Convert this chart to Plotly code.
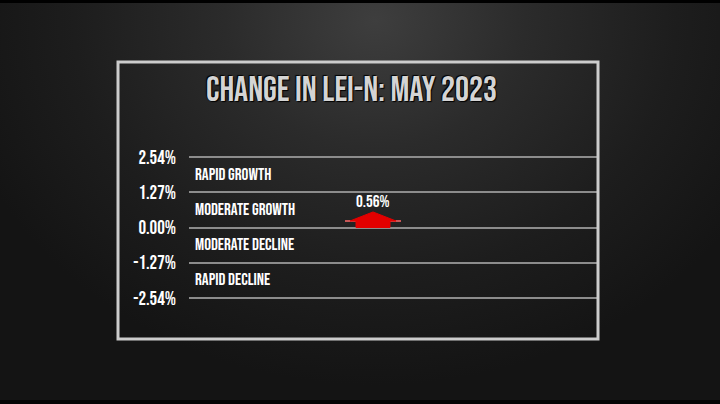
import base64
import plotly.graph_objects as go

# ---- data ----
tick_values = [2.54, 1.27, 0.00, -1.27, -2.54]
tick_labels = ["2.54%", "1.27%", "0.00%", "-1.27%", "-2.54%"]
zone_labels = ["RAPID GROWTH", "MODERATE GROWTH", "MODERATE DECLINE", "RAPID DECLINE"]
zone_centers = [1.905, 0.635, -0.635, -1.905]
change_value = 0.56
change_label = "0.56%"
title_text = "CHANGE IN LEI-N: MAY 2023"

FONT = "Bebas Neue, Oswald, sans-serif"

# plot-area pixel geometry (for paper-coordinate conversions)
L, R, T, B = 189, 597, 155, 300
PW, PH = R - L, B - T


def px(x):
    return (x - L) / PW


def py(y):
    return (B - y) / PH


# arrow geometry derived from the value
ax_c = px(373)
body_hw = 17 / PW
head_hw = 23 / PW
wing_hw = 28 / PW
shoulder = change_value * 0.42
arrow_x = [ax_c - body_hw, ax_c - body_hw, ax_c - head_hw, ax_c, ax_c + head_hw,
           ax_c + body_hw, ax_c + body_hw, ax_c - body_hw]
arrow_y = [0, shoulder, shoulder, change_value, shoulder, shoulder, 0, 0]

fig = go.Figure()
# thin wings at shoulder level
fig.add_trace(go.Scatter(
    x=[ax_c - wing_hw, ax_c + wing_hw], y=[shoulder, shoulder], mode="lines",
    line=dict(color="#ff6a6a", width=1.5), hoverinfo="skip", showlegend=False))
fig.add_trace(go.Scatter(
    x=arrow_x, y=arrow_y, mode="lines", fill="toself",
    fillcolor="#e30000", line=dict(color="#e30000", width=1),
    hoverinfo="skip", showlegend=False))

fig.add_annotation(x=ax_c, y=change_value, text=change_label, showarrow=False,
                   yanchor="bottom", yshift=-2,
                   font=dict(family=FONT, size=17, color="white"))

for lab, yc in zip(zone_labels, zone_centers):
    fig.add_annotation(x=px(193), y=yc, xref="x", yref="y", text=lab,
                       showarrow=False, xanchor="left", yanchor="middle", yshift=0,
                       font=dict(family=FONT, size=17, color="white"))

# smooth radial background via inline SVG
svg = (
    '<svg xmlns="http://www.w3.org/2000/svg" width="720" height="404" viewBox="0 0 720 404">'
    '<defs><radialGradient id="g" cx="375" cy="20" r="430" gradientUnits="userSpaceOnUse" '
    'gradientTransform="translate(375 20) scale(1 0.85) translate(-375 -20)">'
    '<stop offset="0" stop-color="#3e3e3e"/>'
    '<stop offset="0.35" stop-color="#2b2b2b"/>'
    '<stop offset="0.7" stop-color="#1d1d1d"/>'
    '<stop offset="1" stop-color="#141414"/>'
    '</radialGradient></defs>'
    '<rect width="720" height="404" fill="url(#g)"/>'
    '<rect width="720" height="3" fill="#000"/>'
    '<rect y="400" width="720" height="4" fill="#050505"/>'
    '</svg>'
)
src = "data:image/svg+xml;base64," + base64.b64encode(svg.encode()).decode()
fig.add_layout_image(dict(source=src, xref="paper", yref="paper",
                          x=px(0), y=py(0), sizex=720 / PW, sizey=404 / PH,
                          xanchor="left", yanchor="top", sizing="stretch", layer="below"))

# frame
fig.add_shape(type="rect", xref="paper", yref="paper",
              x0=px(118), x1=px(598), y0=py(339), y1=py(62),
              line=dict(color="#cccccc", width=3), fillcolor="rgba(0,0,0,0)")

fig.add_annotation(xref="paper", yref="paper", x=px(351), y=py(90),
                   text=title_text, showarrow=False,
                   xanchor="center", yanchor="middle",
                   font=dict(family=FONT, size=35, color="#d4d4d4",
                             shadow="1px 1px 1px #000, -1px -1px 1px #000"))

fig.update_layout(
    width=720, height=404,
    margin=dict(l=L, r=720 - R, t=T, b=404 - B),
    paper_bgcolor="#1a1a1a", plot_bgcolor="rgba(0,0,0,0)",
    showlegend=False,
    xaxis=dict(range=[0, 1], visible=False, fixedrange=True),
    yaxis=dict(range=[-2.612, 2.612], tickvals=tick_values, ticktext=tick_labels,
               showgrid=True, gridcolor="#8c8c8c", gridwidth=2,
               zeroline=False, showline=False, ticks="",
               ticklabelstandoff=12,
               tickfont=dict(family=FONT, size=19, color="white"),
               fixedrange=True),
)

fig.write_html("out.html", config={"displayModeBar": False},
               post_script="document.body.style.margin='0';")
